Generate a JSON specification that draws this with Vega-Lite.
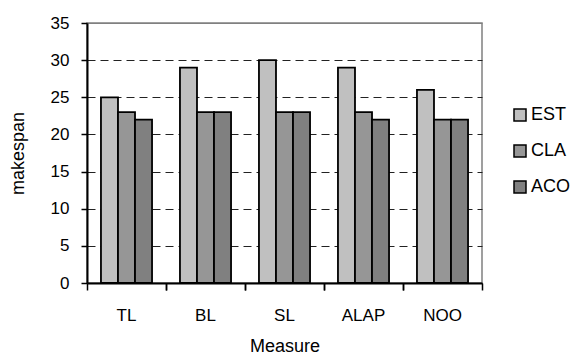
{
  "$schema": "https://vega.github.io/schema/vega-lite/v6.json",
  "width": 395,
  "height": 260,
  "autosize": {"type": "none"},
  "padding": {"left": 87, "top": 23, "right": 89, "bottom": 73},
  "background": "white",
  "config": {
    "font": "Liberation Sans",
    "view": {"stroke": "#808080", "strokeWidth": 1.5},
    "axis": {"labelFont": "Liberation Sans", "titleFont": "Liberation Sans", "labelColor": "black", "titleColor": "black", "titleFontWeight": "normal"},
    "legend": {"labelFont": "Liberation Sans"}
  },
  "data": {
    "values": [
      {"measure": "TL", "algo": "EST", "makespan": 25},
      {"measure": "TL", "algo": "CLA", "makespan": 23},
      {"measure": "TL", "algo": "ACO", "makespan": 22},
      {"measure": "BL", "algo": "EST", "makespan": 29},
      {"measure": "BL", "algo": "CLA", "makespan": 23},
      {"measure": "BL", "algo": "ACO", "makespan": 23},
      {"measure": "SL", "algo": "EST", "makespan": 30},
      {"measure": "SL", "algo": "CLA", "makespan": 23},
      {"measure": "SL", "algo": "ACO", "makespan": 23},
      {"measure": "ALAP", "algo": "EST", "makespan": 29},
      {"measure": "ALAP", "algo": "CLA", "makespan": 23},
      {"measure": "ALAP", "algo": "ACO", "makespan": 22},
      {"measure": "NOO", "algo": "EST", "makespan": 26},
      {"measure": "NOO", "algo": "CLA", "makespan": 22},
      {"measure": "NOO", "algo": "ACO", "makespan": 22}
    ]
  },
  "layer": [
    {
      "mark": {"type": "bar", "stroke": "black", "strokeWidth": 1.8},
      "encoding": {
        "x": {
          "field": "measure",
          "type": "nominal",
          "sort": ["TL", "BL", "SL", "ALAP", "NOO"],
          "scale": {"paddingInner": 0, "paddingOuter": 0},
          "axis": {
            "orient": "bottom",
            "title": "Measure",
            "titleFontSize": 18,
            "titlePadding": 14,
            "labelFontSize": 17,
            "labelAngle": 0,
            "labelPadding": 17,
            "bandPosition": 0,
            "ticks": true,
            "tickSize": 7,
            "tickColor": "black",
            "tickWidth": 1.5,
            "domainColor": "black",
            "domainWidth": 2,
            "grid": false
          }
        },
        "xOffset": {
          "field": "algo",
          "type": "nominal",
          "sort": ["EST", "CLA", "ACO"],
          "scale": {"paddingInner": 0, "paddingOuter": 0.82}
        },
        "y": {
          "field": "makespan",
          "type": "quantitative",
          "scale": {"domain": [0, 35], "nice": false},
          "axis": {
            "title": "makespan",
            "titleFontSize": 18,
            "titlePadding": 23,
            "labelFontSize": 17,
            "labelPadding": 12,
            "values": [0, 5, 10, 15, 20, 25, 30, 35],
            "tickSize": 6,
            "tickColor": "black",
            "tickWidth": 1.5,
            "domainColor": "black",
            "domainWidth": 2,
            "grid": true,
            "gridColor": {"condition": {"test": "datum.value === 35", "value": "#808080"}, "value": "#222222"},
            "gridDash": {"condition": {"test": "datum.value === 35", "value": []}, "value": [8, 5]},
            "gridWidth": 1
          }
        },
        "color": {
          "field": "algo",
          "type": "nominal",
          "sort": ["EST", "CLA", "ACO"],
          "scale": {"domain": ["EST", "CLA", "ACO"], "range": ["#C0C0C0", "#969696", "#808080"]},
          "legend": {
            "title": null,
            "orient": "none",
            "legendX": 424,
            "legendY": 83,
            "padding": 0,
            "symbolType": "square",
            "symbolSize": 144,
            "symbolStrokeColor": "black",
            "symbolStrokeWidth": 1.5,
            "symbolOpacity": 1,
            "labelFontSize": 18,
            "labelOffset": 2,
            "rowPadding": 18
          }
        }
      }
    },
    {
      "mark": {"type": "bar", "opacity": 0},
      "encoding": {
        "x": {
          "field": "measure",
          "type": "nominal",
          "sort": ["TL", "BL", "SL", "ALAP", "NOO"],
          "axis": {
            "orient": "top",
            "offset": -267,
            "title": null,
            "labels": false,
            "domain": false,
            "grid": false,
            "bandPosition": 1,
            "ticks": true,
            "tickSize": 7,
            "tickColor": "black",
            "tickWidth": 1.5
          }
        }
      }
    }
  ],
  "resolve": {"axis": {"x": "independent"}}
}
